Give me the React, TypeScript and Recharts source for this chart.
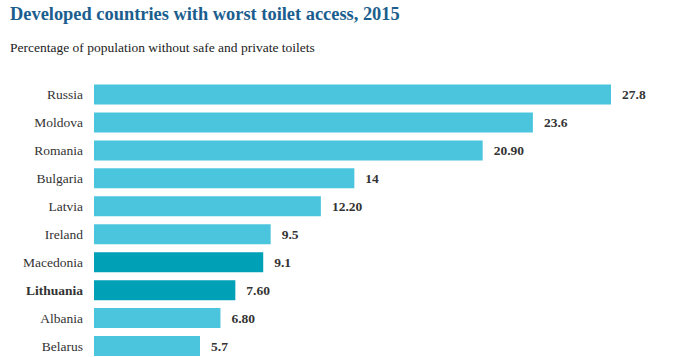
import React from "react";
import { BarChart, Bar, XAxis, YAxis, Cell, LabelList } from "recharts";

const countries = ["Russia", "Moldova", "Romania", "Bulgaria", "Latvia", "Ireland", "Macedonia", "Lithuania", "Albania", "Belarus"];
const values = [27.8, 23.6, 20.9, 14, 12.2, 9.5, 9.1, 7.6, 6.8, 5.7];
const valueLabels = ["27.8", "23.6", "20.90", "14", "12.20", "9.5", "9.1", "7.60", "6.80", "5.7"];
const highlighted = ["Macedonia", "Lithuania"];
const boldCountry = "Lithuania";

const data = countries.map((name, i) => ({ name, value: values[i], label: valueLabels[i] }));

const LIGHT = "#4BC5DE";
const DARK = "#00A0B7";
const FONT = '"Liberation Serif", "Times New Roman", serif';

const CategoryTick = (props: any) => {
  const { x, y, payload } = props;
  const bold = payload.value === boldCountry;
  return (
    <text x={x} y={y} dy="0.36em" textAnchor="end" fontFamily={FONT} fontSize={13.5}
      fontWeight={bold ? "bold" : "normal"} fill="#333">
      {payload.value}
    </text>
  );
};

export default function App() {
  return (
    <div style={{ position: "absolute", left: 0, top: 0, width: 700, height: 357, overflow: "hidden", background: "#fff" }}>
      <div style={{ position: "absolute", left: 10, top: 4, fontFamily: FONT, fontWeight: "bold", fontSize: 18.4, color: "#1B5E8E", whiteSpace: "nowrap" }}>
        Developed countries with worst toilet access, 2015
      </div>
      <div style={{ position: "absolute", left: 10, top: 40, fontFamily: FONT, fontSize: 13.5, color: "#222", whiteSpace: "nowrap" }}>
        Percentage of population without safe and private toilets
      </div>
      <div style={{ position: "absolute", left: 0, top: 0 }}>
        <BarChart width={700} height={360} data={data} layout="vertical"
          margin={{ top: 80.5, right: 89, bottom: 0, left: 0 }}>
          <XAxis type="number" hide domain={[0, 27.8]} />
          <YAxis type="category" dataKey="name" width={94} axisLine={false} tickLine={false}
            tickSize={0} tickMargin={11} tick={<CategoryTick />} interval={0} />
          <Bar dataKey="value" barSize={20} isAnimationActive={false}>
            {data.map((d) => (
              <Cell key={d.name} fill={highlighted.includes(d.name) ? DARK : LIGHT} />
            ))}
            <LabelList dataKey="label" position="right" offset={11} fontFamily={FONT}
              fontSize={13.5} fontWeight="bold" fill="#333" />
          </Bar>
        </BarChart>
      </div>
    </div>
  );
}
